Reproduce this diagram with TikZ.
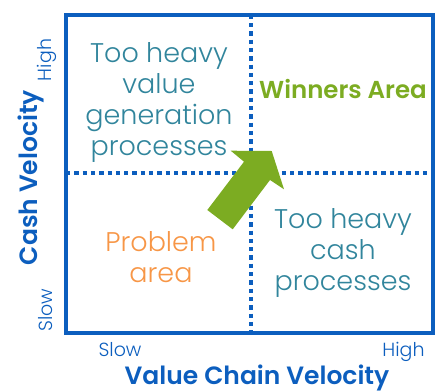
\documentclass[tikz,border=0pt]{standalone}
\usepackage{fontspec}
\setmainfont{Poppins Light}[BoldFont=Poppins SemiBold]
\begin{document}
\begin{tikzpicture}[x=1pt,y=-1pt,
  every node/.style={inner sep=0pt},
  frame/.style={draw=axisblue,line width=4pt},
  divider/.style={draw=axisblue,line width=4pt,dash pattern=on 4.3pt off 4pt},
  quadtext/.style={align=center,font=\fontsize{27}{31}\selectfont},
  axistitle/.style={text=axisblue,font=\fontsize{25}{29}\selectfont\bfseries},
  ticktext/.style={text=axisblue,font=\fontsize{19}{22}\selectfont}]
\definecolor{axisblue}{RGB}{12,94,190}
\definecolor{tealtext}{RGB}{49,133,156}
\definecolor{orangetext}{RGB}{247,150,70}
\definecolor{greenmark}{RGB}{124,172,34}
\useasboundingbox (0,0) rectangle (435,391);

% quadrant dividers
\draw[divider] (250.7,14.7) -- (250.7,332.5);
\draw[divider] (66,173) -- (433,173);

% outer frame
\draw[frame] (66,14.7) rectangle (433,332.5);

% arrow towards the upper right quadrant
\fill[greenmark] (207.3,210) -- (244,161.7) -- (230.7,150.7) -- (271.7,151)
  -- (284,189.3) -- (270,180) -- (232.7,229.3) -- cycle;

% quadrant labels
\node[quadtext,text=tealtext] (ul) at (159,102) {Too heavy\\value\\generation\\processes};
\node[anchor=base,text=greenmark,font=\fontsize{24.5}{28}\selectfont\bfseries] (ur) at (343,98) {Winners Area};
\node[quadtext,text=orangetext] (ll) at (161,257) {Problem\\area};
\node[quadtext,text=tealtext] (lr) at (343,253) {Too heavy\\cash\\processes};

% axes
\node[ticktext,anchor=base] (xslow) at (120,356.7) {Slow};
\node[ticktext,anchor=base] (xhigh) at (403.5,356.7) {High};
\node[axistitle,anchor=base] (xtitle) at (257,384) {Value Chain Velocity};
\node[ticktext,anchor=base,rotate=90] (yslow) at (52.7,310) {Slow};
\node[ticktext,anchor=base,rotate=90] (yhigh) at (51.7,60) {High};
\node[axistitle,anchor=base,rotate=90] (ytitle) at (37.3,177.5) {Cash Velocity};
\end{tikzpicture}
\end{document}
